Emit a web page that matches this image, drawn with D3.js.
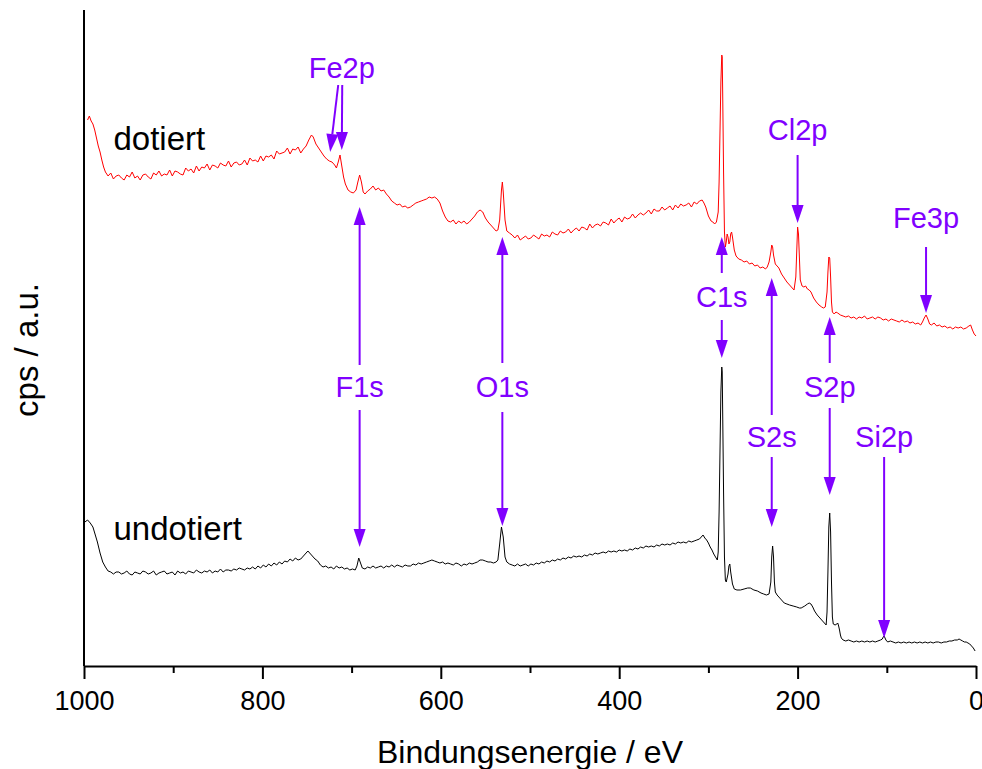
<!DOCTYPE html>
<html>
<head>
<meta charset="utf-8">
<title>XPS Übersichtsspektren</title>
<script src="https://cdn.jsdelivr.net/npm/d3@7"></script>
<style>
  body { margin: 0; background: #fff; }
  text { font-family: "Liberation Sans", Arial, sans-serif; }
</style>
</head>
<body>
<svg id="chart" width="982" height="769"></svg>
<script>

  // tick values of the energy axis
  var majorTicks = [1000, 800, 600, 400, 200, 0];
  var minorTicks = [900, 700, 500, 300, 100];

  // spectrum "dotiert" : [binding energy eV, cps a.u.]
  var dotiert = [[996,532],[994,536],[992,531],[990,528],[988,522],[986,514],[984,506],[982,500],[980,492],[978,485],[976,480],[973,476],[970,479],[967,473],[964,476],[961,477],[958,474],[955,472],[952,477],[949,475],[946,480],[943,474],[940,476],[937,472],[934,477],[931,478],[928,475],[925,473],[922,479],[919,477],[916,481],[913,476],[910,478],[907,477],[904,482],[901,476],[898,481],[895,480],[892,478],[889,477],[886,484],[883,481],[880,483],[877,479],[874,486],[871,481],[868,485],[865,484],[862,488],[859,482],[856,487],[853,486],[850,484],[847,489],[844,487],[841,486],[838,491],[835,485],[832,489],[829,490],[826,487],[823,488],[820,492],[817,487],[814,494],[811,491],[808,492],[805,490],[802,496],[799,491],[796,496],[793,495],[790,497],[787,493],[784,501],[781,498],[778,499],[775,500],[772,504],[769,498],[766,503],[763,502],[760,505],[757,499],[754,503],[751,506],[748,512],[745,517],[743,515],[740,508],[737,504],[734,500],[731,496],[728,493],[725,491],[722,490],[719,487],[717,484],[715,490],[713,497],[711,486],[709,475],[707,468],[704,462],[701,460],[698,459],[695,462],[693,470],[691,477],[689,470],[687,460],[685,458],[682,461],[679,463],[676,466],[673,462],[670,464],[667,461],[664,462],[661,458],[658,455],[655,451],[652,449],[649,447],[646,448],[643,445],[640,446],[637,444],[634,445],[631,447],[628,449],[625,450],[622,451],[619,452],[616,453],[613,455],[610,454],[607,455],[604,453],[601,449],[598,441],[595,435],[592,431],[589,430],[586,432],[583,428],[580,431],[577,429],[574,431],[571,428],[568,430],[565,433],[562,436],[559,440],[556,442],[553,440],[550,434],[547,430],[544,427],[541,424],[538,421],[536,422],[534,432],[532,462],[531,470],[530,460],[528,432],[526,421],[523,419],[520,417],[517,414],[514,417],[511,412],[508,414],[505,416],[502,413],[499,414],[496,417],[493,415],[490,413],[487,418],[484,416],[481,417],[478,415],[475,420],[472,418],[469,417],[466,421],[463,419],[460,420],[457,423],[454,419],[451,422],[448,424],[445,421],[442,425],[439,424],[436,422],[433,428],[430,424],[427,427],[424,428],[421,426],[418,430],[415,429],[412,427],[409,433],[406,429],[403,432],[400,434],[397,430],[394,435],[391,433],[388,434],[385,438],[382,434],[379,437],[376,439],[373,437],[370,439],[367,442],[364,438],[361,443],[358,441],[355,441],[352,445],[349,442],[346,444],[343,446],[340,442],[337,447],[334,444],[331,448],[328,446],[325,447],[322,449],[319,445],[316,450],[313,448],[310,451],[307,452],[305,449],[303,445],[300,436],[297,431],[295,430],[293,428],[291,430],[289,440],[288,470],[287,520],[286,570],[285,597],[284.5,595],[284,560],[283,480],[282,420],[281,405],[280,410],[279,418],[278,415],[277,408],[276,410],[275,418],[274,420],[273,415],[271,402],[269,396],[266,393],[263,392],[260,390],[257,391],[254,388],[251,389],[248,386],[245,387],[242,384],[239,385],[236,383],[234,385],[232,390],[230,400],[229,407],[228,405],[227,397],[225,388],[223,386],[221,384],[218,378],[215,374],[212,370],[209,367],[206,364],[204,362],[202,375],[201,400],[200,425],[199,418],[198,395],[197,372],[195,366],[193,365],[191,366],[189,363],[187,362],[185,360],[182,354],[179,350],[176,347],[173,345],[171,344],[169,345],[167,360],[166,380],[165,395],[164,394],[163,375],[162,350],[161,340],[159,338],[157,340],[155,339],[152,337],[149,336],[146,335],[143,336],[140,334],[137,335],[134,333],[131,335],[128,334],[125,336],[122,333],[119,334],[116,335],[113,333],[110,335],[107,334],[104,332],[101,333],[98,331],[95,333],[92,332],[89,331],[86,330],[83,332],[80,330],[77,331],[74,329],[71,330],[68,328],[65,329],[62,327],[60,330],[58,334],[56,337],[54,333],[52,328],[50,327],[47,329],[44,326],[41,327],[38,325],[35,326],[32,324],[29,325],[26,323],[23,325],[20,324],[17,325],[14,323],[11,324],[8,326],[6,327],[4,322],[2,318],[0,316]];

  // spectrum "undotiert" : [binding energy eV, cps a.u.]
  var undotiert = [[999,130],[996,132],[993,129],[990,125],[988,119],[985,110],[982,99],[979,90],[976,85],[973,81],[970,80],[967,78],[964,80],[961,80],[958,78],[955,79],[952,81],[949,78],[946,77],[943,80],[940,79],[937,78],[934,81],[931,80],[928,78],[925,79],[922,81],[919,77],[916,79],[913,80],[910,81],[907,78],[904,79],[901,80],[898,77],[895,81],[892,79],[889,80],[886,78],[883,81],[880,80],[877,79],[874,82],[871,80],[868,79],[865,81],[862,80],[859,82],[856,79],[853,81],[850,80],[847,83],[844,80],[841,82],[838,82],[835,81],[832,83],[829,82],[826,84],[823,83],[820,82],[817,84],[814,83],[811,85],[808,83],[805,86],[802,84],[799,87],[796,85],[793,88],[790,86],[787,89],[784,87],[781,90],[778,88],[775,91],[772,90],[769,93],[766,91],[763,94],[760,92],[757,93],[754,96],[751,99],[749,101],[747,99],[744,96],[741,93],[738,91],[735,87],[732,85],[729,86],[726,84],[723,85],[720,83],[717,86],[714,84],[711,85],[708,83],[705,84],[702,82],[699,83],[696,82],[694,86],[692,94],[690,89],[688,84],[685,83],[682,85],[679,84],[676,86],[673,84],[670,85],[667,86],[664,84],[661,86],[658,85],[655,87],[652,85],[649,87],[646,86],[643,85],[640,87],[637,86],[634,86],[631,88],[628,87],[625,89],[622,88],[619,89],[616,90],[613,91],[610,92],[607,91],[604,90],[601,89],[598,90],[595,88],[592,89],[589,88],[586,87],[583,89],[580,88],[577,86],[574,88],[571,87],[568,89],[565,88],[562,89],[559,90],[556,92],[553,92],[550,91],[547,90],[544,90],[541,89],[538,90],[536,92],[534,108],[532,125],[530,115],[528,95],[526,90],[523,88],[520,87],[517,86],[514,88],[511,86],[508,87],[505,88],[502,86],[499,88],[496,87],[493,89],[490,88],[487,90],[484,89],[481,91],[478,90],[475,92],[472,91],[469,93],[466,92],[463,94],[460,93],[457,95],[454,94],[451,96],[448,95],[445,96],[442,95],[439,97],[436,96],[433,98],[430,97],[427,99],[424,98],[421,99],[418,100],[415,99],[412,101],[409,100],[406,101],[403,100],[400,102],[397,101],[394,102],[391,101],[388,103],[385,102],[382,104],[379,103],[376,105],[373,104],[370,106],[367,105],[364,106],[361,105],[358,107],[355,106],[352,108],[349,107],[346,108],[343,107],[340,109],[337,108],[334,110],[331,109],[328,110],[325,109],[322,111],[319,110],[316,111],[313,112],[310,113],[308,115],[306,117],[304,114],[302,112],[300,109],[298,105],[296,102],[294,98],[292,95],[290,92],[289,100],[288,140],[287,200],[286,260],[285,285],[284.5,280],[284,240],[283,160],[282,95],[281,72],[280,70],[278,78],[277,86],[276,88],[275,80],[273,68],[271,63],[268,62],[264,62],[260,63],[256,64],[253,64],[249,62],[245,61],[241,59],[238,58],[235,57],[232,58],[230,70],[229,95],[228,106],[227,95],[226,70],[225,60],[223,57],[221,55],[219,53],[217,51],[215,49],[212,48],[209,47],[205,46],[201,45],[198,44],[196,44],[194,45],[192,46],[189,48],[187,49],[185,48],[183,45],[181,41],[178,37],[175,34],[172,31],[170,29],[168,27],[167,40],[166,80],[165,125],[164,139],[163,120],[162,70],[161,35],[160,28],[158,27],[156,28],[155,29],[154,26],[153,22],[152,17],[151,14],[149,12],[146,11],[143,12],[140,11],[137,10],[134,11],[131,10],[128,11],[125,10],[122,11],[119,10],[116,11],[113,10],[110,11],[107,12],[105,13],[104,15],[103,16],[102,14],[101,12],[99,10],[96,11],[93,10],[90,9],[87,10],[84,9],[81,10],[78,9],[75,10],[72,9],[69,10],[66,9],[63,10],[60,9],[57,10],[54,9],[51,10],[48,9],[45,10],[42,10],[39,9],[36,10],[33,10],[30,11],[27,11],[24,12],[21,12],[19,13],[17,12],[15,11],[13,10],[11,10],[9,9],[7,8],[5,6],[3,4],[1,1]];

  // series names, placed in data units
  var seriesNames = [
    { name: "dotiert",   e: 967, v: 502 },
    { name: "undotiert", e: 967, v: 112 }
  ];

  // peak labels: text position and arrows [e from, v from, e tip, v tip]
  var peaks = [
    { label: "Fe2p", e: 711, v: 574, arrows: [[715, 567, 724, 500], [710.5, 567, 711, 502]] },
    { label: "F1s",  e: 691, v: 255, arrows: [[691, 287, 691, 445], [691, 242, 691, 105]] },
    { label: "O1s",  e: 531, v: 255, arrows: [[531, 289, 531, 415], [531, 240, 531, 126]] },
    { label: "C1s",  e: 285, v: 345, arrows: [[285, 379, 285, 415], [285, 332, 285, 294]] },
    { label: "Cl2p", e: 200, v: 512, arrows: [[200, 497, 200, 429]] },
    { label: "S2s",  e: 229, v: 205, arrows: [[229, 237, 229, 374], [229, 195, 229, 125]] },
    { label: "S2p",  e: 164, v: 255, arrows: [[164, 289, 164, 335], [164, 244, 164, 157]] },
    { label: "Fe3p", e: 56,  v: 424, arrows: [[56, 405, 56, 339]] },
    { label: "Si2p", e: 103, v: 205, arrows: [[103, 195, 103, 14]] }
  ];

  var purple = "#8000ff";
  var svg = d3.select("#chart");

  // scales: energy axis runs from 1000 down to 0
  var x = d3.scaleLinear().domain([1000, 0]).range([84, 976]);
  var y = d3.scaleLinear().domain([-14, 642]).range([666, 10]);

  var line = d3.line()
      .x(function(d) { return x(d[0]); })
      .y(function(d) { return y(d[1]); });

  svg.append("path")
      .datum(undotiert)
      .attr("d", line)
      .attr("fill", "none")
      .attr("stroke", "#000")
      .attr("stroke-width", 1);

  svg.append("path")
      .datum(dotiert)
      .attr("d", line)
      .attr("fill", "none")
      .attr("stroke", "#ff0000")
      .attr("stroke-width", 1);

  // x axis with major and minor ticks
  var xAxis = svg.append("g")
      .attr("transform", "translate(0,666)")
      .call(d3.axisBottom(x).tickValues(majorTicks).tickSize(13).tickSizeOuter(0).tickPadding(12)
        .tickFormat(d3.format("d")));
  xAxis.select(".domain").attr("stroke-width", 2);
  xAxis.selectAll(".tick line").attr("stroke-width", 2);
  xAxis.selectAll("text").attr("font-size", 27).attr("font-family", "Liberation Sans, Arial, sans-serif").attr("fill", "#000");

  var xMinor = svg.append("g")
      .attr("transform", "translate(0,666)")
      .call(d3.axisBottom(x).tickValues(minorTicks).tickSize(7).tickFormat(""));
  xMinor.select(".domain").remove();
  xMinor.selectAll(".tick line").attr("stroke-width", 2);

  // y axis: plain line, no ticks
  svg.append("line")
      .attr("x1", x(1000)).attr("x2", x(1000))
      .attr("y1", y(642)).attr("y2", y(-14))
      .attr("stroke", "#000")
      .attr("stroke-width", 2);

  // axis titles
  svg.append("text")
      .attr("x", (x(1000) + x(0)) / 2)
      .attr("y", 763)
      .attr("text-anchor", "middle")
      .attr("font-size", 32)
      .text("Bindungsenergie / eV");

  svg.append("text")
      .attr("transform", "translate(38,350) rotate(-90)")
      .attr("text-anchor", "middle")
      .attr("font-size", 33)
      .text("cps / a.u.");

  // series names
  svg.selectAll(".series-name")
      .data(seriesNames)
      .enter()
      .append("text")
      .attr("class", "series-name")
      .attr("x", function(d) { return x(d.e); })
      .attr("y", function(d) { return y(d.v); })
      .attr("font-size", 33)
      .attr("fill", "#000")
      .text(function(d) { return d.name; });

  // arrow helper: line plus filled head at the tip
  function drawArrow(g, a) {
    var x1 = x(a[0]), y1 = y(a[1]), x2 = x(a[2]), y2 = y(a[3]);
    var len = Math.sqrt((x2 - x1) * (x2 - x1) + (y2 - y1) * (y2 - y1));
    var ux = (x2 - x1) / len, uy = (y2 - y1) / len;
    var headL = 18, headW = 6;
    var bx = x2 - ux * headL, by = y2 - uy * headL;
    g.append("line")
        .attr("x1", x1).attr("y1", y1)
        .attr("x2", bx).attr("y2", by)
        .attr("stroke", purple)
        .attr("stroke-width", 2);
    g.append("path")
        .attr("d", "M" + x2 + "," + y2 +
                   "L" + (bx - uy * headW) + "," + (by + ux * headW) +
                   "L" + (bx + uy * headW) + "," + (by - ux * headW) + "Z")
        .attr("fill", purple);
  }

  var peakG = svg.selectAll(".peak")
      .data(peaks)
      .enter()
      .append("g")
      .attr("class", "peak");

  peakG.append("text")
      .attr("x", function(d) { return x(d.e); })
      .attr("y", function(d) { return y(d.v); })
      .attr("text-anchor", "middle")
      .attr("font-size", 29)
      .attr("fill", purple)
      .text(function(d) { return d.label; });

  peakG.each(function(d) {
    var g = d3.select(this);
    d.arrows.forEach(function(a) { drawArrow(g, a); });
  });

</script>
</body>
</html>
